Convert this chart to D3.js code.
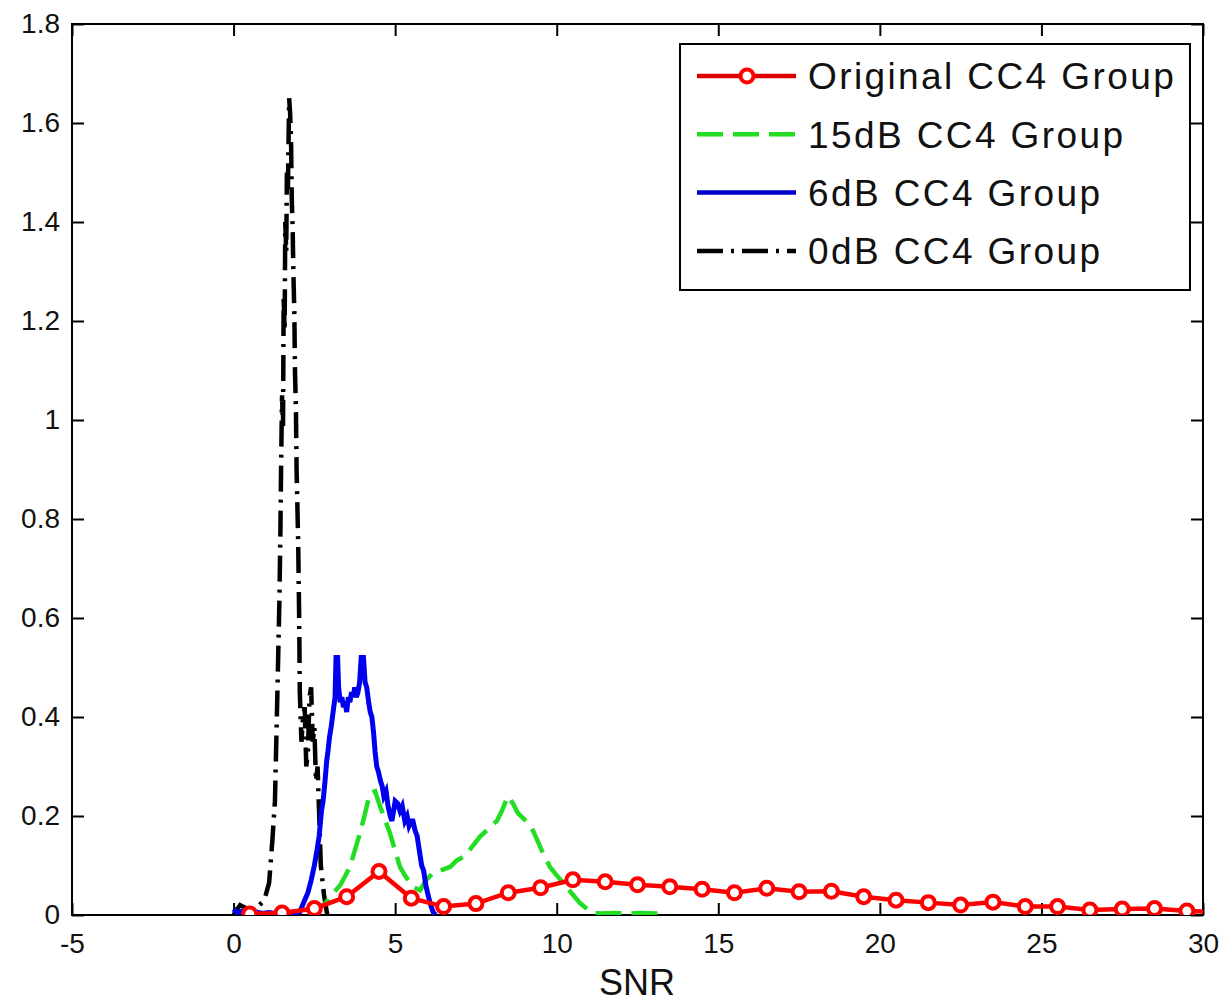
<!DOCTYPE html>
<html>
<head>
<meta charset="utf-8">
<script src="https://cdn.jsdelivr.net/npm/d3@7"></script>
<style>
  body { margin: 0; background: #fff; }
  svg { display: block; }
  text { font-family: "Liberation Sans", Arial, Helvetica, sans-serif; }
</style>
</head>
<body>
<svg class="svg-canvas" width="1224" height="1004"></svg>
<script>
// tick values
var xTicks = [-5, 0, 5, 10, 15, 20, 25, 30];
var yTicks = [0, 0.2, 0.4, 0.6, 0.8, 1, 1.2, 1.4, 1.6, 1.8];
var yTickLabels = ["0", "0.2", "0.4", "0.6", "0.8", "1", "1.2", "1.4", "1.6", "1.8"];

// Original CC4 Group (markers)
var origX = [0.5, 1.5, 2.5, 3.5, 4.5, 5.5, 6.5, 7.5, 8.5, 9.5, 10.5, 11.5, 12.5, 13.5, 14.5,
  15.5, 16.5, 17.5, 18.5, 19.5, 20.5, 21.5, 22.5, 23.5, 24.5, 25.5, 26.5, 27.5, 28.5, 29.5, 30.5];
var origY = [0.002, 0.004, 0.013, 0.037, 0.088, 0.034, 0.017, 0.023, 0.045, 0.055, 0.071, 0.067, 0.061, 0.057, 0.052,
  0.045, 0.054, 0.047, 0.048, 0.037, 0.030, 0.025, 0.020, 0.026, 0.017, 0.017, 0.010, 0.012, 0.013, 0.008, 0.006];

// 15dB CC4 Group
var db15X = [2.3, 2.6, 2.85, 3.08, 3.3, 3.6, 3.75, 3.91, 4.05, 4.22, 4.38, 4.53, 4.7, 4.84, 5.0, 5.15, 5.3, 5.46, 5.6, 5.77,
  5.95, 6.17, 6.4, 6.7, 6.9, 7.1, 7.35, 7.62, 7.9, 8.15, 8.3, 8.49, 8.65, 8.8, 9.05, 9.27, 9.54, 9.79, 10.0, 10.2,
  10.45, 10.72, 10.95, 11.12, 11.4, 11.8, 12.2, 12.6, 13.2];
var db15Y = [0.002, 0.01, 0.025, 0.044, 0.06, 0.097, 0.13, 0.165, 0.2, 0.246, 0.25, 0.22, 0.19, 0.165, 0.13, 0.097, 0.08, 0.065, 0.055, 0.05,
  0.07, 0.085, 0.09, 0.097, 0.11, 0.117, 0.135, 0.158, 0.175, 0.19, 0.21, 0.24, 0.225, 0.206, 0.19, 0.17, 0.13, 0.097, 0.08, 0.065,
  0.045, 0.024, 0.012, 0.004, 0.003, 0.004, 0.003, 0.004, 0.003];

// 6dB CC4 Group
var db6X = [0.0, 0.1, 0.3, 0.5, 0.7, 0.9, 1.1, 1.3, 1.5, 1.7, 1.9, 2.05, 2.2, 2.3, 2.4, 2.5, 2.58, 2.65, 2.72, 2.77,
  2.83, 2.88, 2.92, 2.97, 3.02, 3.06, 3.1, 3.14, 3.17, 3.22, 3.25, 3.3, 3.35, 3.4, 3.45, 3.5, 3.55, 3.6, 3.65, 3.7,
  3.75, 3.8, 3.85, 3.9, 3.95, 4.02, 4.07, 4.12, 4.18, 4.23, 4.28, 4.33, 4.38, 4.43, 4.48, 4.55, 4.6, 4.65, 4.72, 4.78,
  4.85, 4.9, 4.95, 5.0, 5.08, 5.15, 5.22, 5.3, 5.37, 5.43, 5.5, 5.55, 5.62, 5.68, 5.75, 5.82, 5.88, 5.95, 6.02, 6.1,
  6.18, 6.25];
var db6Y = [0.012, 0.005, 0.008, 0.004, 0.006, 0.003, 0.005, 0.003, 0.004, 0.003, 0.005, 0.006, 0.03, 0.045, 0.07, 0.1, 0.13, 0.16, 0.21, 0.23,
  0.27, 0.31, 0.33, 0.36, 0.38, 0.40, 0.42, 0.44, 0.52, 0.52, 0.46, 0.43, 0.44, 0.42, 0.43, 0.41, 0.44, 0.43, 0.45, 0.44,
  0.46, 0.44, 0.45, 0.47, 0.52, 0.52, 0.47, 0.46, 0.43, 0.41, 0.40, 0.37, 0.33, 0.30, 0.29, 0.27, 0.26, 0.24, 0.25, 0.22,
  0.20, 0.19, 0.21, 0.23, 0.225, 0.21, 0.22, 0.19, 0.20, 0.18, 0.19, 0.19, 0.17, 0.16, 0.13, 0.10, 0.09, 0.06, 0.04, 0.02,
  0.005, 0.0];

// 0dB CC4 Group
var db0X = [0.0, 0.2, 0.5, 0.8, 0.95, 1.1, 1.2, 1.28, 1.35, 1.42, 1.45, 1.47, 1.5, 1.53, 1.55, 1.58, 1.6, 1.63, 1.65, 1.68,
  1.72, 1.75, 1.78, 1.8, 1.83, 1.85, 1.88, 1.9, 1.93, 1.95, 2.0, 2.03, 2.05, 2.1, 2.15, 2.2, 2.25, 2.3, 2.35, 2.4,
  2.45, 2.5, 2.55, 2.6, 2.65, 2.7, 2.8, 2.9];
var db0Y = [0.0, 0.02, 0.01, 0.02, 0.03, 0.065, 0.15, 0.23, 0.43, 0.64, 0.78, 0.9, 1.05, 0.98, 1.25, 1.18, 1.4, 1.34, 1.5, 1.46,
  1.65, 1.62, 1.56, 1.45, 1.38, 1.3, 1.22, 1.1, 1.02, 0.9, 0.75, 0.6, 0.45, 0.35, 0.4, 0.42, 0.3, 0.33, 0.44, 0.46,
  0.35, 0.38, 0.27, 0.3, 0.2, 0.1, 0.04, 0.0];

var legendLabels = ["Original CC4 Group", "15dB CC4 Group", "6dB CC4 Group", "0dB CC4 Group"];

var svg = d3.select(".svg-canvas");
var plotLeft = 72, plotRight = 1203, plotTop = 24, plotBottom = 915;

var x = d3.scaleLinear().domain([-5, 30]).range([plotLeft, plotRight]);
var y = d3.scaleLinear().domain([0, 1.8]).range([plotBottom, plotTop]);

svg.append("rect").attr("x", 0).attr("y", 0).attr("width", 1224).attr("height", 1004).attr("fill", "#fff");

svg.append("clipPath").attr("id", "plot-clip")
  .append("rect").attr("x", plotLeft).attr("y", plotTop)
  .attr("width", plotRight - plotLeft).attr("height", plotBottom - plotTop);

// axes (ticks inward on all four sides, like matlab box on)
function styleAxis(g) {
  g.select(".domain").remove();
  g.selectAll("line").attr("stroke", "#000").attr("stroke-width", 2);
  g.selectAll("text").attr("fill", "#111").style("font-size", "28px");
}

svg.append("g").attr("transform", "translate(0," + plotBottom + ")")
  .call(d3.axisBottom(x).tickValues(xTicks).tickFormat(function(d) { return String(d); })
    .tickSizeInner(-12).tickSizeOuter(0).tickPadding(18))
  .call(styleAxis);

svg.append("g").attr("transform", "translate(" + plotLeft + ",0)")
  .call(d3.axisLeft(y).tickValues(yTicks).tickFormat(function(d, i) { return yTickLabels[i]; })
    .tickSizeInner(-12).tickSizeOuter(0).tickPadding(12))
  .call(styleAxis);

svg.append("g").attr("transform", "translate(0," + plotTop + ")")
  .call(d3.axisTop(x).tickValues(xTicks).tickFormat("").tickSizeInner(-12).tickSizeOuter(0))
  .call(styleAxis);

svg.append("g").attr("transform", "translate(" + plotRight + ",0)")
  .call(d3.axisRight(y).tickValues(yTicks).tickFormat("").tickSizeInner(-12).tickSizeOuter(0))
  .call(styleAxis);

svg.append("rect")
  .attr("x", plotLeft).attr("y", plotTop)
  .attr("width", plotRight - plotLeft).attr("height", plotBottom - plotTop)
  .attr("fill", "none").attr("stroke", "#000").attr("stroke-width", 2);

svg.append("text")
  .attr("x", 637).attr("y", 995)
  .attr("text-anchor", "middle")
  .style("font-size", "36px").attr("fill", "#111")
  .text("SNR");

var line = d3.line()
  .x(function(d) { return x(d[0]); })
  .y(function(d) { return y(d[1]); });

var plot = svg.append("g").attr("clip-path", "url(#plot-clip)");

function pairs(xs, ys) { return xs.map(function(v, i) { return [v, ys[i]]; }); }

var series = [
  { data: pairs(db0X, db0Y), color: "#000", dash: "26,8,3,8", width: 4.5 },
  { data: pairs(db15X, db15Y), color: "#22dd22", dash: "26,10", width: 4.5 },
  { data: pairs(db6X, db6Y), color: "#0000ee", dash: null, width: 5 },
  { data: pairs(origX, origY), color: "#ff0000", dash: null, width: 4.5 }
];

series.forEach(function(s) {
  plot.append("path")
    .datum(s.data)
    .attr("d", line)
    .attr("fill", "none")
    .attr("stroke", s.color)
    .attr("stroke-width", s.width)
    .attr("stroke-linejoin", "miter")
    .attr("stroke-dasharray", s.dash);
});

plot.selectAll(".orig-marker")
  .data(pairs(origX, origY)).enter()
  .append("circle")
  .attr("class", "orig-marker")
  .attr("cx", function(d) { return x(d[0]); })
  .attr("cy", function(d) { return y(d[1]); })
  .attr("r", 6.5)
  .attr("fill", "#fff")
  .attr("stroke", "#ff0000")
  .attr("stroke-width", 4);

// legend
var legend = svg.append("g");
legend.append("rect")
  .attr("x", 680).attr("y", 44).attr("width", 510).attr("height", 246)
  .attr("fill", "#fff").attr("stroke", "#000").attr("stroke-width", 2);

var legendStyles = [
  { color: "#dd0000", dash: null, marker: true },
  { color: "#22dd22", dash: "26,10", marker: false },
  { color: "#0000cc", dash: null, marker: false },
  { color: "#000", dash: "26,8,3,8", marker: false }
];

legendLabels.forEach(function(label, i) {
  var ly = 76 + i * 58.3;
  var st = legendStyles[i];
  legend.append("line")
    .attr("x1", 697).attr("x2", 796).attr("y1", ly).attr("y2", ly)
    .attr("stroke", st.color).attr("stroke-width", 4.5)
    .attr("stroke-dasharray", st.dash);
  if (st.marker) {
    legend.append("circle")
      .attr("cx", 747).attr("cy", ly).attr("r", 6.5)
      .attr("fill", "#fff").attr("stroke", "#ff0000").attr("stroke-width", 4);
  }
  legend.append("text")
    .attr("x", 808).attr("y", ly)
    .attr("dy", "0.36em")
    .style("font-size", "37px")
    .style("letter-spacing", "2.4px")
    .attr("fill", "#111")
    .text(label);
});
</script>
</body>
</html>
